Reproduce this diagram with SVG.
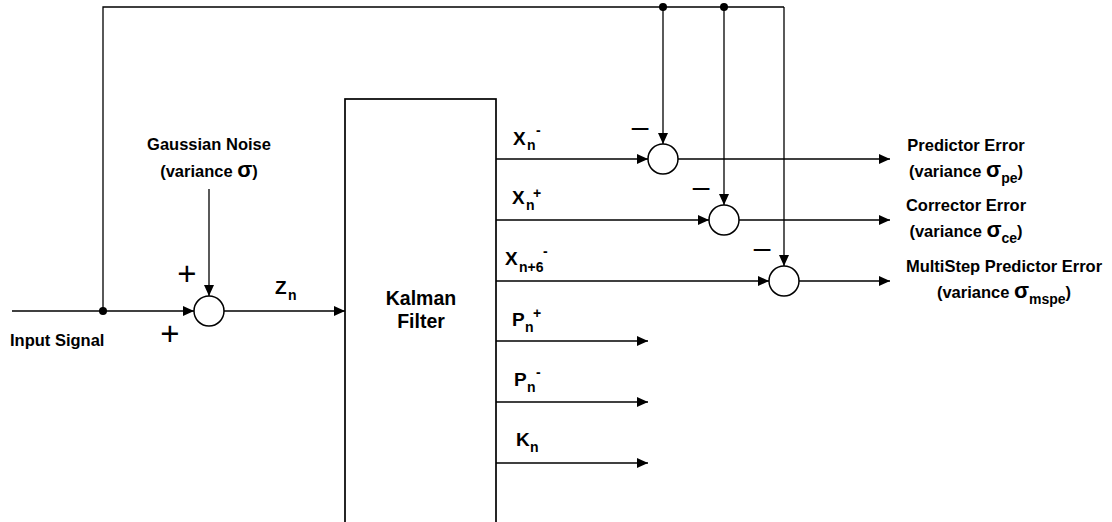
<svg xmlns="http://www.w3.org/2000/svg" width="1112" height="522" viewBox="0 0 1112 522">
<style>
  text { font-family: "Liberation Sans", Arial, sans-serif; font-weight: bold; fill: #000; }
  .lbl { font-size: 16.5px; }
  .big { font-size: 19.5px; }
  .var { font-size: 19px; }
  .sub { font-size: 14px; }
  .sig { font-size: 22px; }
  .sign { font-family: "Liberation Sans", Arial, sans-serif; font-weight: normal; font-size: 30px; }
  .plus { font-size: 33px; }
  .wire { fill: none; stroke: #000; stroke-width: 1.3; }
  .arr { marker-end: url(#ah); }
  .sum { fill: #fff; stroke: #000; stroke-width: 1.5; }
  .box { fill: #fff; stroke: #000; stroke-width: 1.7; }
  .dot { fill: #000; }
</style>
<defs>
  <marker id="ah" markerUnits="userSpaceOnUse" markerWidth="11" markerHeight="10" refX="11" refY="5" orient="auto">
    <path d="M0,0 L11,5 L0,10 z" fill="#000"/>
  </marker>
</defs>
<rect width="1112" height="522" fill="#fff"/>

<g id="connectors">
  <line class="wire arr" x1="12" y1="311" x2="194" y2="311"/>
  <polyline class="wire" points="103,311 103,7 784,7"/>
  <line class="wire arr" x1="663" y1="7" x2="663" y2="144"/>
  <line class="wire arr" x1="724" y1="7" x2="724" y2="205"/>
  <line class="wire arr" x1="784" y1="7" x2="784" y2="266"/>
  <circle class="dot" cx="103" cy="311" r="4"/>
  <circle class="dot" cx="663" cy="7" r="4"/>
  <circle class="dot" cx="724" cy="7" r="4"/>
  <line class="wire arr" x1="209" y1="189" x2="209" y2="296"/>
  <line class="wire arr" x1="224" y1="311" x2="345" y2="311"/>
  <line class="wire arr" x1="496" y1="159" x2="648" y2="159"/>
  <line class="wire arr" x1="496" y1="220" x2="709" y2="220"/>
  <line class="wire arr" x1="496" y1="281" x2="769" y2="281"/>
  <line class="wire arr" x1="496" y1="341" x2="648" y2="341"/>
  <line class="wire arr" x1="496" y1="402" x2="648" y2="402"/>
  <line class="wire arr" x1="496" y1="463" x2="648" y2="463"/>
  <line class="wire arr" x1="678" y1="159" x2="890" y2="159"/>
  <line class="wire arr" x1="739" y1="220" x2="890" y2="220"/>
  <line class="wire arr" x1="799" y1="281" x2="890" y2="281"/>
</g>

<g id="input-signal">
  <text class="lbl" x="10" y="346">Input Signal</text>
</g>

<g id="gaussian-noise">
  <text class="lbl" x="209" y="150" text-anchor="middle">Gaussian Noise</text>
  <text class="lbl" x="209" y="177" text-anchor="middle">(variance <tspan class="sig">σ</tspan>)</text>
</g>

<g id="sum-input">
  <circle class="sum" cx="209" cy="311" r="15"/>
  <text class="sign plus" x="187" y="284.5" text-anchor="middle">+</text>
  <text class="sign plus" x="170" y="344.5" text-anchor="middle">+</text>
</g>

<g id="zn-label">
  <text class="var" x="275" y="294">Z</text>
  <text class="sub" x="288" y="300">n</text>
</g>

<g id="kalman-filter">
  <rect class="box" x="345" y="99" width="151" height="440"/>
  <text class="big" x="421" y="305" text-anchor="middle">Kalman</text>
  <text class="big" x="421" y="328" text-anchor="middle">Filter</text>
</g>

<g id="output-labels">
  <text class="var" x="513" y="145">X</text>
  <text class="sub" x="527" y="150">n</text>
  <text class="sub" x="536" y="135">-</text>

  <text class="var" x="512" y="204">X</text>
  <text class="sub" x="526" y="210">n</text>
  <text class="sub" x="533" y="198">+</text>

  <text class="var" x="505" y="265">X</text>
  <text class="sub" x="519" y="272">n+6</text>
  <text class="sub" x="543" y="256">-</text>

  <text class="var" x="512" y="326">P</text>
  <text class="sub" x="525" y="332">n</text>
  <text class="sub" x="533" y="318">+</text>

  <text class="var" x="514" y="386">P</text>
  <text class="sub" x="527" y="392">n</text>
  <text class="sub" x="536" y="377">-</text>

  <text class="var" x="516" y="446">K</text>
  <text class="sub" x="530" y="452">n</text>
</g>

<g id="sum-predictor">
  <circle class="sum" cx="663" cy="159" r="15"/>
  <text class="sign" x="640" y="137" text-anchor="middle">–</text>
</g>
<g id="sum-corrector">
  <circle class="sum" cx="724" cy="220" r="15"/>
  <text class="sign" x="701" y="197" text-anchor="middle">–</text>
</g>
<g id="sum-multistep">
  <circle class="sum" cx="784" cy="281" r="15"/>
  <text class="sign" x="762" y="258" text-anchor="middle">–</text>
</g>

<g id="predictor-error">
  <text class="lbl" x="966" y="150.5" text-anchor="middle">Predictor Error</text>
  <text class="lbl" x="966" y="177" text-anchor="middle">(variance <tspan class="sig">σ</tspan><tspan class="sub" dy="5.5">pe</tspan><tspan dy="-5.5">)</tspan></text>
</g>
<g id="corrector-error">
  <text class="lbl" x="966" y="211" text-anchor="middle">Corrector Error</text>
  <text class="lbl" x="966" y="237" text-anchor="middle">(variance <tspan class="sig">σ</tspan><tspan class="sub" dy="5.5">ce</tspan><tspan dy="-5.5">)</tspan></text>
</g>
<g id="multistep-error">
  <text class="lbl" x="1004" y="271.5" text-anchor="middle">MultiStep Predictor Error</text>
  <text class="lbl" x="1004" y="298" text-anchor="middle">(variance <tspan class="sig">σ</tspan><tspan class="sub" dy="5.5">mspe</tspan><tspan dy="-5.5">)</tspan></text>
</g>
</svg>
